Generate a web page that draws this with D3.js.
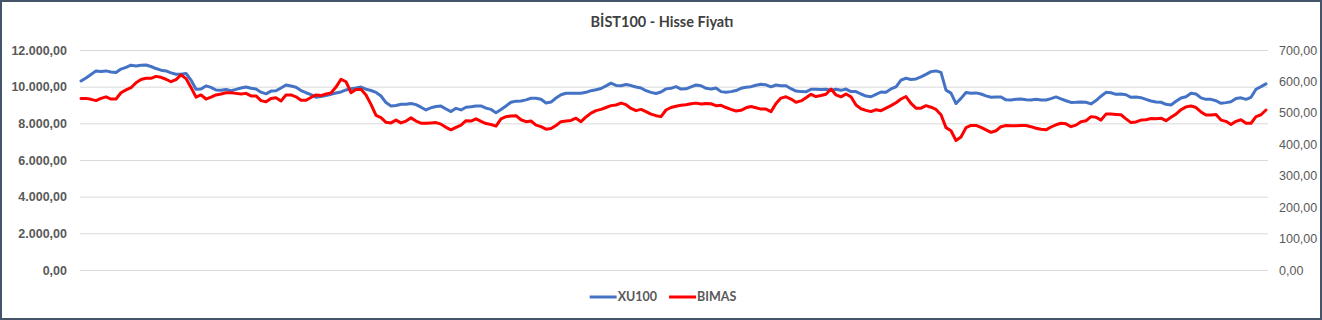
<!DOCTYPE html>
<html>
<head>
<meta charset="utf-8">
<script src="https://d3js.org/d3.v7.min.js"></script>
<style>
  body { margin: 0; background: #fff; }
  svg { display: block; font-family: Lato, "Open Sans", sans-serif; }
  .grid line { stroke: #d9d9d9; stroke-width: 1px; }
  .grid .domain { display: none; }
  .axis .domain, .axis line { display: none; }
  .axis-left text { fill: #595959; font-size: 12.5px; font-weight: bold; }
  .axis-right text { fill: #595959; font-size: 12.5px; }
  .title { fill: #404040; font-size: 14.5px; font-weight: bold; }
  .legend text { fill: #595959; font-size: 12.5px; font-weight: bold; }
</style>
</head>
<body>
<script>
  // values (daily closes, one year)
  var xu100 = [
    10310, 10470, 10660, 10860, 10830, 10860, 10800, 10770, 10960, 11050,
    11170, 11130, 11170, 11180, 11100, 10990, 10900, 10860, 10750, 10680,
    10680, 10720, 10360, 9860, 9870, 10040, 9960, 9820, 9800, 9850,
    9780, 9850, 9930, 9980, 9910, 9870, 9700, 9610, 9760, 9780,
    9930, 10090, 10040, 9970, 9790, 9670, 9570, 9420, 9460, 9520,
    9590, 9650, 9710, 9820, 9890, 9930, 9980, 9860, 9790, 9690,
    9490, 9130, 8950, 8970, 9040, 9040, 9080, 9020, 8880, 8730,
    8850, 8920, 8940, 8780, 8640, 8820, 8730, 8880, 8900, 8950,
    8950, 8830, 8760, 8580, 8760, 8950, 9150, 9210, 9220, 9280,
    9370, 9370, 9310, 9110, 9160, 9380, 9560, 9640, 9640, 9640,
    9640, 9690, 9780, 9830, 9900, 10040, 10190, 10070, 10050, 10120,
    10060, 9980, 9930, 9780, 9690, 9630, 9710, 9880, 9910, 10000,
    9870, 9880, 9990, 10090, 10050, 9910, 9870, 9930, 9730, 9700,
    9730, 9790, 9910, 9970, 10000, 10080, 10130, 10100, 9990, 10090,
    10050, 10050, 9890, 9760, 9730, 9720, 9860, 9860, 9840, 9860,
    9800, 9860, 9800, 9870, 9730, 9730, 9600, 9490, 9450, 9580,
    9710, 9690, 9880, 9990, 10360, 10460, 10390, 10420, 10530, 10670,
    10820, 10860, 10780, 9810, 9650, 9080, 9360, 9680, 9640, 9660,
    9600, 9500, 9420, 9440, 9440, 9280, 9270, 9310, 9330, 9290,
    9270, 9310, 9270, 9270, 9350, 9440, 9330, 9230, 9140, 9150,
    9170, 9150, 9060, 9240, 9480, 9690, 9670, 9580, 9600, 9560,
    9420, 9440, 9400, 9310, 9220, 9160, 9150, 9040, 9000, 9200,
    9380, 9450, 9640, 9600, 9390, 9310, 9310, 9230, 9090, 9130,
    9180, 9350, 9390, 9310, 9420, 9860, 10000, 10150
  ];

  var bimas = [
    546, 546, 543, 539, 546, 551, 544, 544, 564, 573,
    580, 596, 606, 610, 610, 616, 613, 607, 599, 606,
    621, 609, 581, 550, 557, 544, 550, 557, 560, 564,
    564, 562, 560, 562, 554, 554, 539, 535, 546, 548,
    538, 557, 557, 551, 540, 540, 549, 557, 555, 560,
    563, 582, 607, 599, 564, 574, 575, 557, 527, 492,
    485, 470, 468, 477, 468, 474, 484, 474, 467, 467,
    468, 469, 464, 454, 446, 454, 461, 475, 474, 481,
    473, 466, 463, 458, 481, 488, 490, 491, 478, 472,
    474, 461, 456, 448, 450, 460, 472, 474, 476, 483,
    472, 487, 499, 507, 511, 517, 523, 525, 531, 526,
    514, 507, 511, 504, 496, 491, 488, 509, 517, 521,
    524, 526, 529, 531, 528, 530, 529, 523, 524, 517,
    511, 506, 508, 516, 520, 516, 512, 512, 504, 530,
    547, 551, 544, 534, 538, 548, 559, 552, 555, 559,
    576, 557, 551, 560, 551, 525, 513, 508, 504, 510,
    507, 515, 523, 532, 544, 552, 530, 515, 515, 523,
    518, 511, 494, 453, 443, 412, 423, 453, 460, 460,
    454, 446, 438, 443, 456, 460, 459, 459, 460, 460,
    456, 451, 448, 446, 455, 462, 467, 465, 456, 461,
    472, 475, 488, 486, 477, 496, 496, 495, 494, 481,
    469, 471, 477, 478, 482, 481, 483, 475, 486, 496,
    510, 519, 522, 517, 503, 493, 493, 495, 477, 473,
    463, 473, 478, 467, 467, 488, 494, 509
  ];

  var days = d3.range(xu100.length);

  var leftTicks = [0, 2000, 4000, 6000, 8000, 10000, 12000];
  var rightTicks = [0, 100, 200, 300, 400, 500, 600, 700];

  var seriesNames = ["XU100", "BIMAS"];
  var seriesColors = ["#4472c4", "#ff0000"];

  var W = 1322, H = 320;
  var plot = {left: 78.5, right: 1268.5, top: 50, bottom: 270};

  var tr = d3.formatLocale({decimal: ",", thousands: ".", grouping: [3], currency: ["", "₺"]});
  var fmt = tr.format(",.2f");

  var x = d3.scalePoint()
      .domain(days)
      .range([plot.left, plot.right])
      .padding(0.5);

  var yL = d3.scaleLinear().domain([0, 12000]).range([plot.bottom, plot.top]);
  var yR = d3.scaleLinear().domain([0, 700]).range([plot.bottom, plot.top]);

  var svg = d3.select("body").append("svg")
      .attr("width", W)
      .attr("height", H);

  svg.append("rect")
      .attr("x", 1).attr("y", 1)
      .attr("width", W - 2).attr("height", H - 2)
      .attr("fill", "#fff")
      .attr("stroke", "#44546a")
      .attr("stroke-width", 2);

  svg.append("text")
      .attr("class", "title")
      .attr("x", 662)
      .attr("y", 27)
      .attr("text-anchor", "middle")
      .text("BİST100 - Hisse Fiyatı");

  // gridlines
  svg.append("g")
      .attr("class", "grid")
      .attr("transform", `translate(80,0)`)
      .call(d3.axisLeft(yL).tickValues(leftTicks).tickSize(-1188).tickFormat(""));

  svg.append("g")
      .attr("class", "axis axis-left")
      .attr("transform", `translate(80,0)`)
      .call(d3.axisLeft(yL).tickValues(leftTicks).tickSize(0).tickPadding(13).tickFormat(fmt));

  svg.append("g")
      .attr("class", "axis axis-right")
      .attr("transform", `translate(1268,0)`)
      .call(d3.axisRight(yR).tickValues(rightTicks).tickSize(0).tickPadding(11).tickFormat(fmt));

  var lineL = d3.line().x((d, i) => x(days[i])).y(d => yL(d));
  var lineR = d3.line().x((d, i) => x(days[i])).y(d => yR(d));

  svg.append("path")
      .datum(xu100)
      .attr("fill", "none")
      .attr("stroke", seriesColors[0])
      .attr("stroke-width", 3)
      .attr("stroke-linejoin", "round")
      .attr("stroke-linecap", "round")
      .attr("d", lineL);

  svg.append("path")
      .datum(bimas)
      .attr("fill", "none")
      .attr("stroke", seriesColors[1])
      .attr("stroke-width", 3)
      .attr("stroke-linejoin", "round")
      .attr("stroke-linecap", "round")
      .attr("d", lineR);

  // legend
  var legend = svg.append("g").attr("class", "legend");
  var lx = 0;
  seriesNames.forEach(function(name, i) {
    var item = legend.append("g").attr("transform", `translate(${lx},0)`);
    item.append("line")
        .attr("x1", 0).attr("x2", 27)
        .attr("y1", 0).attr("y2", 0)
        .attr("stroke", seriesColors[i])
        .attr("stroke-width", 3);
    var t = item.append("text")
        .attr("x", 28)
        .attr("dy", "0.35em")
        .text(name);
    lx += 28 + t.node().getComputedTextLength() + 12;
  });
  lx -= 12;
  legend.attr("transform", `translate(${663 - lx / 2},297)`);
</script>
</body>
</html>
